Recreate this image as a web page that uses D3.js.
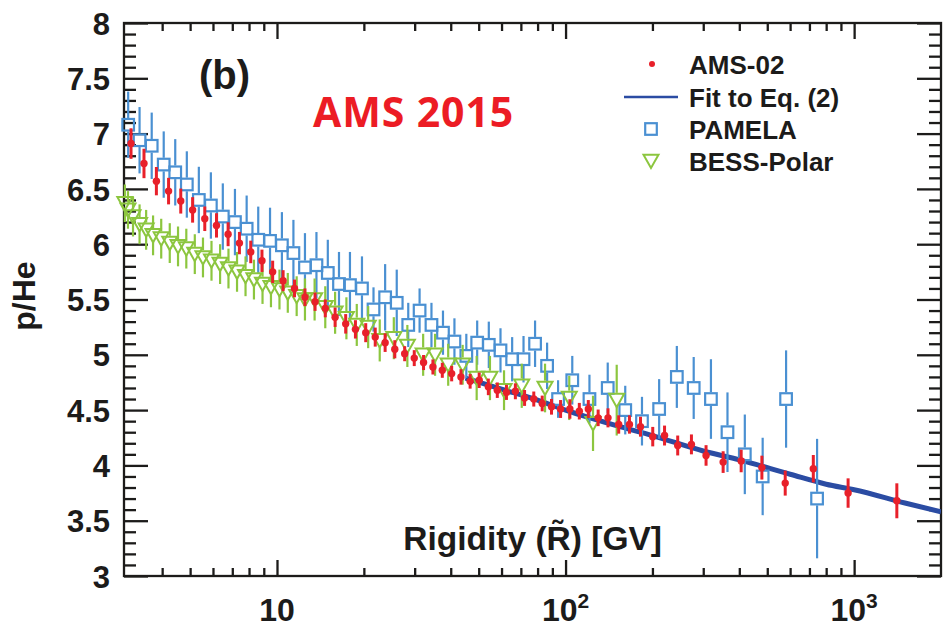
<!DOCTYPE html>
<html>
<head>
<meta charset="utf-8">
<script src="https://cdn.jsdelivr.net/npm/d3@7"></script>
<style>
  html, body { margin: 0; padding: 0; background: #ffffff; }
  svg { display: block; }
</style>
</head>
<body>
<svg id="chart" width="943" height="634"></svg>
<script>
// ---- p/He ratio versus rigidity ----

// AMS-02 (rigidity in GV, ratio, symmetric uncertainty)
const amsR = [3.12, 3.46, 3.82, 4.21, 4.64, 5.10, 5.62, 6.17, 6.77, 7.41,
  8.11, 8.87, 9.66, 10.5, 11.5, 12.5, 13.55, 14.7, 15.9, 17.3,
  18.7, 20.3, 21.9, 23.7, 25.6, 27.7, 29.9, 32.2, 34.7, 37.4,
  40.3, 43.4, 46.7, 50.2, 54.0, 58.0, 62.4, 67.0, 72.1, 77.6,
  83.0, 89.4, 96.1, 103.5, 111.6, 119.9, 129.7, 140.3, 152.8, 166.5,
  181.8, 200.5, 220.3, 244.7, 273, 306.8, 351.6, 406, 479, 577,
  722, 953, 1406];
const amsRatio = [6.91, 6.73, 6.57, 6.48, 6.39, 6.31, 6.23, 6.17, 6.09, 6.01,
  5.93, 5.85, 5.75, 5.67, 5.60, 5.52, 5.48, 5.42, 5.34, 5.28,
  5.23, 5.20, 5.16, 5.11, 5.05, 5.01, 4.97, 4.93, 4.89, 4.86,
  4.83, 4.80, 4.76, 4.77, 4.71, 4.68, 4.66, 4.67, 4.61, 4.60,
  4.56, 4.53, 4.51, 4.51, 4.49, 4.51, 4.43, 4.43, 4.37, 4.37,
  4.35, 4.26, 4.27, 4.18, 4.19, 4.09, 4.03, 4.04, 3.98, 3.84,
  3.97, 3.75, 3.68];
const amsErr = [0.138, 0.133, 0.128, 0.120, 0.113, 0.115, 0.111, 0.110, 0.108, 0.101,
  0.102, 0.101, 0.101, 0.095, 0.080, 0.080, 0.083, 0.081, 0.088, 0.088,
  0.083, 0.086, 0.086, 0.084, 0.082, 0.068, 0.072, 0.068, 0.068, 0.068,
  0.070, 0.070, 0.066, 0.070, 0.075, 0.070, 0.068, 0.072, 0.072, 0.068,
  0.071, 0.071, 0.081, 0.088, 0.075, 0.081, 0.075, 0.086, 0.083, 0.083,
  0.090, 0.088, 0.090, 0.090, 0.090, 0.093, 0.098, 0.102, 0.108, 0.113,
  0.124, 0.133, 0.158];

// Fit to Eq. (2), above 45 GV
const fitR = [45, 60, 80, 100, 150, 200, 300, 400, 600, 800, 1000, 1500, 2000];
const fitRatio = [4.79, 4.69, 4.59, 4.50, 4.36, 4.27, 4.13, 4.05, 3.92, 3.83, 3.78, 3.66, 3.58];

// PAMELA
const pamelaR = [3.05, 3.34, 3.68, 4.05, 4.44, 4.87, 5.36, 5.90, 6.49, 7.15,
  7.85, 8.61, 9.46, 10.4, 11.4, 12.5, 13.7, 15.0, 16.4, 17.9,
  19.7, 21.6, 23.7, 26.0, 28.5, 31.2, 34.3, 37.6, 41.2, 45.3,
  49.4, 54.2, 59.5, 65.3, 71.5, 78.4, 86.3, 94.2, 105.5, 121,
  140, 161, 184, 211, 243, 278, 319, 364, 418, 482,
  581, 744];
const pamelaRatio = [7.08, 6.94, 6.89, 6.72, 6.65, 6.54, 6.40, 6.35, 6.25, 6.20,
  6.14, 6.04, 6.03, 5.99, 5.92, 5.79, 5.81, 5.74, 5.64, 5.63,
  5.60, 5.41, 5.52, 5.47, 5.27, 5.40, 5.27, 5.20, 5.12, 4.99,
  5.11, 5.09, 5.04, 4.96, 4.96, 5.10, 4.90, 4.60, 4.77, 4.60,
  4.70, 4.50, 4.40, 4.51, 4.80, 4.70, 4.60, 4.30, 4.10, 3.90,
  4.60, 3.70];
const pamelaErr = [0.30, 0.30, 0.30, 0.30, 0.30, 0.30, 0.30, 0.30, 0.30, 0.30,
  0.30, 0.30, 0.30, 0.30, 0.30, 0.31, 0.30, 0.30, 0.29, 0.30,
  0.29, 0.20, 0.30, 0.30, 0.20, 0.20, 0.20, 0.20, 0.21, 0.20,
  0.20, 0.21, 0.20, 0.20, 0.21, 0.21, 0.21, 0.17, 0.22, 0.22,
  0.23, 0.22, 0.22, 0.27, 0.28, 0.28, 0.36, 0.36, 0.36, 0.35,
  0.44, 0.54];

// BESS-Polar
const bessR = [2.97, 3.045, 3.17, 3.34, 3.52, 3.72, 3.97, 4.25, 4.54, 4.85,
  5.19, 5.54, 5.93, 6.35, 6.79, 7.27, 7.78, 8.32, 8.91, 9.53,
  10.2, 10.9, 11.7, 12.5, 13.5, 14.7, 15.9, 17.4, 18.9, 20.7,
  22.7, 25.4, 28.3, 32.1, 35.3, 39.2, 44.0, 49.2, 54.7, 61.2,
  70.5, 84.9, 103, 124.5, 150.4];
const bessRatio = [6.37, 6.31, 6.25, 6.18, 6.13, 6.08, 6.05, 6.01, 5.98, 5.96,
  5.91, 5.88, 5.85, 5.82, 5.78, 5.75, 5.71, 5.68, 5.64, 5.61,
  5.59, 5.56, 5.53, 5.50, 5.50, 5.43, 5.38, 5.33, 5.27, 5.25,
  5.13, 5.15, 5.08, 5.00, 5.00, 4.91, 4.91, 4.79, 4.79, 4.68,
  4.72, 4.70, 4.61, 4.38, 4.59];
const bessErr = [0.17, 0.17, 0.18, 0.18, 0.18, 0.18, 0.18, 0.18, 0.18, 0.18,
  0.18, 0.18, 0.18, 0.18, 0.18, 0.18, 0.18, 0.18, 0.18, 0.18,
  0.18, 0.18, 0.18, 0.19, 0.19, 0.19, 0.19, 0.19, 0.19, 0.19,
  0.19, 0.19, 0.19, 0.19, 0.19, 0.19, 0.18, 0.20, 0.20, 0.18,
  0.20, 0.22, 0.20, 0.25, 0.32];

// Axis ticks and labels
const yMajorTicks = [3, 3.5, 4, 4.5, 5, 5.5, 6, 6.5, 7, 7.5, 8];
const xMajorTicks = [10, 100, 1000];
const xTickBase = ["10", "10", "10"];
const xTickExp = ["", "2", "3"];
const legendLabels = ["AMS-02", "Fit to Eq. (2)", "PAMELA", "BESS-Polar"];
const yTitle = "p/He";
const xTitle = "Rigidity (R\u0303) [GV]";
const panelTag = "(b)";
const headline = "AMS 2015";

// ---- styling ----
const INK = "#1c1b1a";
const C_AMS = "#e8202a";
const C_FIT = "#2b4ca3";
const C_PAM = "#4a90d2";
const C_BESS = "#8cc63f";
const FONT = "'Liberation Sans', Arial, Helvetica, sans-serif";

const W = 943, H = 634;
const frame = { l: 124, r: 941, t: 23, b: 576 };

const x = d3.scaleLog().domain([2.95, 2000]).range([frame.l, frame.r]);
const y = d3.scaleLinear().domain([3, 8]).range([frame.b, frame.t]);

const svg = d3.select("#chart");

svg.append("defs").append("clipPath").attr("id", "plotClip")
  .append("rect")
  .attr("x", frame.l).attr("y", frame.t)
  .attr("width", frame.r - frame.l).attr("height", frame.b - frame.t);

// ---- axes: ticks on all four sides, pointing inward ----
const yMinorTicks = d3.range(30, 81).map(i => i / 10).filter(v => !yMajorTicks.includes(v));
const xMinorTicks = x.ticks().filter(v => v > 3.5 && v < 1500 && !xMajorTicks.includes(v));

function styleAxis(g) {
  g.select(".domain").remove();
  g.selectAll(".tick line").attr("stroke", INK).attr("stroke-width", 2.3);
}

// left
svg.append("g").attr("transform", `translate(${frame.l},0)`)
  .call(d3.axisLeft(y).tickValues(yMinorTicks).tickSize(-12).tickFormat(""))
  .call(styleAxis);
svg.append("g").attr("transform", `translate(${frame.l},0)`)
  .call(d3.axisLeft(y).tickValues(yMajorTicks).tickSize(-24).tickPadding(14)
    .tickFormat(d => d3.format("~g")(d)))
  .call(styleAxis)
  .call(g => g.selectAll("text")
    .attr("fill", INK).attr("font-family", FONT).attr("font-weight", "bold")
    .attr("font-size", 31).attr("dy", "0.36em"));

// right
svg.append("g").attr("transform", `translate(${frame.r},0)`)
  .call(d3.axisRight(y).tickValues(yMinorTicks).tickSize(-12).tickFormat(""))
  .call(styleAxis);
svg.append("g").attr("transform", `translate(${frame.r},0)`)
  .call(d3.axisRight(y).tickValues(yMajorTicks).tickSize(-24).tickFormat(""))
  .call(styleAxis);

// bottom
svg.append("g").attr("transform", `translate(0,${frame.b})`)
  .call(d3.axisBottom(x).tickValues(xMinorTicks).tickSize(-8).tickFormat(""))
  .call(styleAxis);
svg.append("g").attr("transform", `translate(0,${frame.b})`)
  .call(d3.axisBottom(x).tickValues(xMajorTicks).tickSize(-16).tickFormat(""))
  .call(styleAxis);

// top
svg.append("g").attr("transform", `translate(0,${frame.t})`)
  .call(d3.axisTop(x).tickValues(xMinorTicks).tickSize(-8).tickFormat(""))
  .call(styleAxis);
svg.append("g").attr("transform", `translate(0,${frame.t})`)
  .call(d3.axisTop(x).tickValues(xMajorTicks).tickSize(-16).tickFormat(""))
  .call(styleAxis);

// decade labels with superscript exponents
const xLab = svg.append("g").selectAll("text")
  .data(xMajorTicks)
  .join("text")
  .attr("x", d => x(d))
  .attr("y", 621)
  .attr("text-anchor", "middle")
  .attr("fill", INK)
  .attr("font-family", FONT)
  .attr("font-weight", "bold")
  .attr("font-size", 32);
xLab.append("tspan").text((d, i) => xTickBase[i]);
xLab.append("tspan")
  .attr("font-size", 21)
  .attr("dy", -13)
  .text((d, i) => xTickExp[i]);

// frame
svg.append("rect")
  .attr("x", frame.l).attr("y", frame.t)
  .attr("width", frame.r - frame.l).attr("height", frame.b - frame.t)
  .attr("fill", "none").attr("stroke", INK).attr("stroke-width", 2.3);

// ---- titles ----
svg.append("text")
  .attr("transform", "translate(35,296) rotate(-90)")
  .attr("text-anchor", "middle")
  .attr("fill", INK).attr("font-family", FONT).attr("font-weight", "bold")
  .attr("font-size", 32)
  .text(yTitle);

svg.append("text")
  .attr("x", 662).attr("y", 550)
  .attr("text-anchor", "end")
  .attr("fill", INK).attr("font-family", FONT).attr("font-weight", "bold")
  .attr("font-size", 33.5)
  .text(xTitle);

svg.append("text")
  .attr("x", 199).attr("y", 89)
  .attr("fill", INK).attr("font-family", FONT).attr("font-weight", "bold")
  .attr("font-size", 40)
  .text(panelTag);

svg.append("text")
  .attr("x", 313).attr("y", 127)
  .attr("fill", "#ec1c24").attr("font-family", "'Open Sans', 'Noto Sans', sans-serif")
  .attr("font-weight", 700)
  .attr("font-size", 41)
  .attr("letter-spacing", 0.9)
  .text(headline);

// ---- data ----
const ams = amsR.map((r, i) => ({ r, v: amsRatio[i], e: amsErr[i] }));
const pamela = pamelaR.map((r, i) => ({ r, v: pamelaRatio[i], e: pamelaErr[i] }));
const bess = bessR.map((r, i) => ({ r, v: bessRatio[i], e: bessErr[i] }));
const fit = fitR.map((r, i) => ({ r, v: fitRatio[i] }));

// marker geometry
const SQ = 5.8;            // half side of the open square
const TRI_W = 7.5, TRI_UP = 6.3, TRI_DN = 7;
const triPath = `M${-TRI_W},${-TRI_UP}L${TRI_W},${-TRI_UP}L0,${TRI_DN}Z`;

// fit curve
svg.append("path")
  .datum(fit)
  .attr("clip-path", "url(#plotClip)")
  .attr("fill", "none")
  .attr("stroke", C_FIT)
  .attr("stroke-width", 5)
  .attr("d", d3.line().x(d => x(d.r)).y(d => y(d.v)).curve(d3.curveMonotoneX));

// error bars for open markers leave a gap where the marker sits
function gappedBars(g, data, color, gapUp, gapDown, width) {
  const segs = [];
  data.forEach(d => {
    const cy = y(d.v), top = y(d.v + d.e), bot = y(d.v - d.e);
    if (cy - gapUp > top) segs.push({ x: x(d.r), y1: top, y2: cy - gapUp });
    if (cy + gapDown < bot) segs.push({ x: x(d.r), y1: cy + gapDown, y2: bot });
  });
  g.selectAll("line").data(segs).join("line")
    .attr("x1", s => s.x).attr("x2", s => s.x)
    .attr("y1", s => s.y1).attr("y2", s => s.y2)
    .attr("stroke", color).attr("stroke-width", width);
}

// PAMELA
const gP = svg.append("g");
gappedBars(gP.append("g"), pamela, C_PAM, SQ + 1, SQ + 1, 2.2);
gP.append("g").selectAll("rect").data(pamela).join("rect")
  .attr("x", d => x(d.r) - SQ).attr("y", d => y(d.v) - SQ)
  .attr("width", 2 * SQ).attr("height", 2 * SQ)
  .attr("fill", "none").attr("stroke", C_PAM).attr("stroke-width", 2.2);

// BESS-Polar
const gB = svg.append("g");
gappedBars(gB.append("g"), bess, C_BESS, TRI_UP + 1, TRI_DN - 1, 2.2);
gB.append("g").selectAll("path").data(bess).join("path")
  .attr("transform", d => `translate(${x(d.r)},${y(d.v)})`)
  .attr("d", triPath)
  .attr("fill", "none").attr("stroke", C_BESS).attr("stroke-width", 2)
  .attr("stroke-linejoin", "miter");

// AMS-02
const gA = svg.append("g");
gA.append("g").selectAll("line").data(ams).join("line")
  .attr("x1", d => x(d.r)).attr("x2", d => x(d.r))
  .attr("y1", d => y(d.v + d.e)).attr("y2", d => y(d.v - d.e))
  .attr("stroke", C_AMS).attr("stroke-width", 3);
gA.append("g").selectAll("circle").data(ams).join("circle")
  .attr("cx", d => x(d.r)).attr("cy", d => y(d.v)).attr("r", 3.7)
  .attr("fill", C_AMS);

// ---- legend ----
const legend = svg.append("g");
const rowY = [64, 97, 129, 161];
const markX = 652;
legend.append("circle").attr("cx", markX).attr("cy", rowY[0]).attr("r", 3).attr("fill", C_AMS);
legend.append("line").attr("x1", 624).attr("x2", 678).attr("y1", rowY[1]).attr("y2", rowY[1])
  .attr("stroke", C_FIT).attr("stroke-width", 2.7);
legend.append("rect").attr("x", markX - 1 - SQ).attr("y", rowY[2] - SQ)
  .attr("width", 2 * SQ).attr("height", 2 * SQ)
  .attr("fill", "none").attr("stroke", C_PAM).attr("stroke-width", 2.2);
legend.append("path").attr("transform", `translate(${markX - 1},${rowY[3]})`)
  .attr("d", triPath).attr("fill", "none").attr("stroke", C_BESS).attr("stroke-width", 2);
legend.selectAll("text").data(legendLabels).join("text")
  .attr("x", 689).attr("y", (d, i) => rowY[i] + 9.5)
  .attr("fill", INK).attr("font-family", FONT).attr("font-weight", "bold")
  .attr("font-size", 26)
  .text(d => d);
</script>
</body>
</html>
